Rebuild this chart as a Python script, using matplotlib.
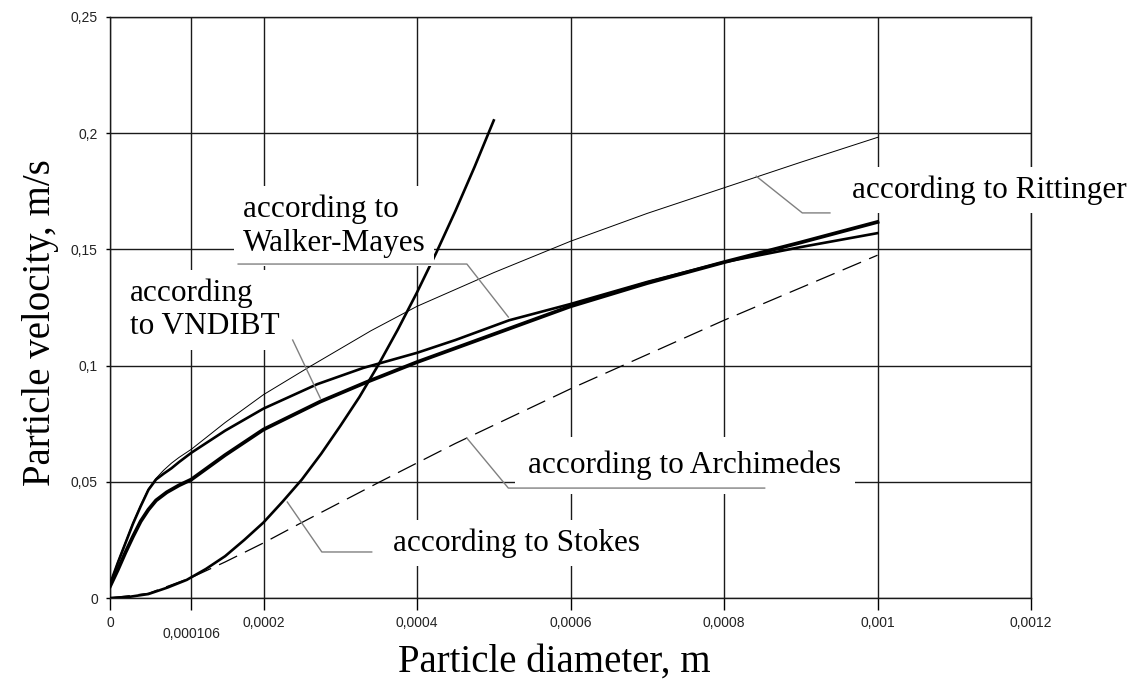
import matplotlib.pyplot as plt

# Particle settling velocity vs. particle diameter for several formulas
d_rit = [0, 0.00001, 0.00002, 0.00003, 0.00004, 0.00005, 0.00006, 0.00007, 0.00008,
         0.00009, 0.000106, 0.00015, 0.0002, 0.00026, 0.00034, 0.0004, 0.0005, 0.0006,
         0.0007, 0.0008, 0.0009, 0.001]
v_rit = [0.006, 0.0155, 0.024, 0.0325, 0.040, 0.047, 0.0515, 0.055, 0.058,
         0.0605, 0.064, 0.0755, 0.0875, 0.0995, 0.115, 0.1255, 0.140, 0.1535,
         0.1655, 0.1765, 0.1875, 0.1982]

d_wm = [0, 0.00001, 0.00002, 0.00003, 0.00004, 0.00005, 0.00006, 0.00007, 0.00008,
        0.00009, 0.000106, 0.00015, 0.0002, 0.00027, 0.00033, 0.0004, 0.00045, 0.00052,
        0.0006, 0.0007, 0.0008, 0.0009, 0.001]
v_wm = [0.006, 0.015, 0.0235, 0.032, 0.0395, 0.0465, 0.051, 0.0535, 0.0558,
        0.0585, 0.0625, 0.072, 0.0815, 0.092, 0.099, 0.1055, 0.111, 0.1195,
        0.1265, 0.136, 0.1445, 0.151, 0.157]

d_vn = [0, 0.00001, 0.00002, 0.00003, 0.00004, 0.00005, 0.00006, 0.000074, 0.00009,
        0.000106, 0.00015, 0.0002, 0.000274, 0.000335, 0.0004, 0.0005, 0.0006, 0.0007,
        0.0008, 0.0009, 0.001]
v_vn = [0.005, 0.012, 0.0195, 0.0265, 0.033, 0.038, 0.042, 0.0455, 0.0485,
        0.051, 0.0615, 0.0725, 0.0845, 0.093, 0.1015, 0.1135, 0.1255, 0.1355,
        0.1445, 0.153, 0.1618]

d_st = [0, 0.000025, 0.00005, 0.000075, 0.0001, 0.000125, 0.00015, 0.000175, 0.0002,
        0.000225, 0.00025, 0.000275, 0.0003, 0.000325, 0.00035, 0.000375, 0.0004,
        0.000425, 0.00045, 0.000475, 0.0005]
v_st = [0, 0.0005, 0.0017, 0.0045, 0.0078, 0.0125, 0.018, 0.025, 0.0325,
        0.0415, 0.051, 0.062, 0.074, 0.0865, 0.1005, 0.1155, 0.1315,
        0.1485, 0.1665, 0.1855, 0.2055]

d_ar = [0, 0.00005, 0.000106, 0.00015, 0.0002, 0.00025, 0.00035, 0.00045, 0.0006,
        0.0008, 0.001]
v_ar = [0, 0.002, 0.0088, 0.0155, 0.0237, 0.0325, 0.0497, 0.0665, 0.090,
        0.1195, 0.1475]

x_ticks = [0, 0.000106, 0.0002, 0.0004, 0.0006, 0.0008, 0.001, 0.0012]
x_labels = ['0', '0,000106', '0,0002', '0,0004', '0,0006', '0,0008', '0,001', '0,0012']
y_ticks = [0, 0.05, 0.1, 0.15, 0.2, 0.25]
y_labels = ['0', '0,05', '0,1', '0,15', '0,2', '0,25']

W, H = 1141, 682
fig = plt.figure(figsize=(W / 100, H / 100), dpi=100)
ax = fig.add_axes([110 / W, 1 - 598 / H, (1031 - 110) / W, (598 - 17) / H])

ax.plot(d_rit, v_rit, color='black', lw=0.7, zorder=3)
ax.plot(d_wm, v_wm, color='black', lw=1.9, zorder=3)
ax.plot(d_vn, v_vn, color='black', lw=2.7, zorder=3)
ax.plot(d_st, v_st, color='black', lw=1.9, zorder=3)
ax.plot(d_ar, v_ar, color='black', lw=0.9, dashes=(16, 7), zorder=3)

ax.set_xlim(0, 0.0012)
ax.set_ylim(0, 0.25)
ax.set_xticks(x_ticks)
ax.set_xticklabels(x_labels, fontsize=10, family='Liberation Sans', color='#222222')
ax.set_yticks(y_ticks)
ax.set_yticklabels(y_labels, fontsize=10, family='Liberation Sans', color='#222222')
ax.tick_params(axis='x', direction='out', length=8.6, width=1.0, pad=4.5)
ax.tick_params(axis='y', direction='out', length=3, width=1.0, pad=5.8)
ax.xaxis.get_major_ticks()[1].set_pad(12)
ax.grid(True, color='#1a1a1a', lw=1.0)
ax.set_axisbelow(True)
for s in ax.spines.values():
    s.set_color('#1a1a1a')
    s.set_linewidth(1.0)

serif = 'Liberation Serif'
fig.text(554 / W, 1 - 662 / H, 'Particle diameter, m', fontsize=28, family=serif,
         ha='center', va='center')
fig.text(41 / W, 1 - 323 / H, 'Particle velocity, m/s', fontsize=28, family=serif,
         ha='center', va='center', rotation=90)

# callouts: white-backed label, leader drawn over the box edge
leader = dict(color='#808080', lw=1.0, zorder=6)
box = dict(facecolor='white', edgecolor='none', pad=6)
fs = 22.5

ax.plot([0.000842, 0.000902, 0.000938], [0.1815, 0.1657, 0.1657], **leader)
ax.text(0.000967, 0.1756, 'according to Rittinger', fontsize=fs, family=serif,
        ha='left', va='center', bbox=box, zorder=5)

ax.plot([0.000519, 0.000465, 0.000167], [0.1209, 0.1437, 0.1437], **leader)
ax.text(0.000173, 0.160, 'according to\nWalker-Mayes', fontsize=fs, family=serif,
        ha='left', va='center', linespacing=1.2, bbox=box, zorder=5)

ax.plot([0.000274, 0.000238], [0.086, 0.111], **leader)
ax.text(0.000026, 0.124, 'according\nto VNDIBT', fontsize=fs, family=serif,
        ha='left', va='center', linespacing=1.2, bbox=box, zorder=5)

ax.plot([0.000465, 0.000519, 0.000853], [0.0688, 0.0473, 0.0473], **leader)
ax.text(0.000545, 0.0572, 'according to Archimedes', fontsize=fs, family=serif,
        ha='left', va='center', bbox=dict(facecolor='white', edgecolor='none', pad=10),
        zorder=5)

ax.plot([0.000231, 0.000276, 0.000341], [0.0413, 0.0198, 0.0198], **leader)
ax.text(0.000369, 0.0237, 'according to Stokes', fontsize=fs, family=serif,
        ha='left', va='center', bbox=box, zorder=5)

fig.savefig('out.png', dpi=100)
